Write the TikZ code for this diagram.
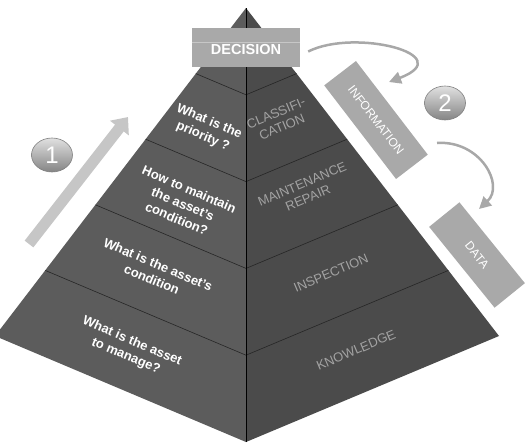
\documentclass[tikz,border=0pt]{standalone}
\usepackage{fontspec}
\setmainfont{Liberation Sans}
\usetikzlibrary{calc,arrows.meta,shapes.geometric}
\definecolor{leftface}{HTML}{5C5C5C}
\definecolor{rightface}{HTML}{4B4B4B}
\definecolor{boxgray}{HTML}{A9A9A9}
\definecolor{rtext}{HTML}{A3A3A3}
\definecolor{arrowgray}{HTML}{A8A8A8}
\definecolor{bigarrow}{HTML}{C6C6C6}
\begin{document}
\begin{tikzpicture}[x=1pt,y=-1pt,
  lefttext/.style={text=white,font=\fontsize{13}{16}\selectfont\bfseries,align=center,rotate=-23,inner sep=0pt},
  righttext/.style={text=rtext,font=\fontsize{13}{15}\selectfont,align=center,rotate=23,inner sep=0pt},
  slab/.style={fill=boxgray,text=white,inner sep=0pt,font=\fontsize{12}{14}\selectfont},
  layerline/.style={draw=black!85,line width=0.6pt},
  curvearrow/.style={draw=arrowgray,line width=2.5pt,-{Triangle[width=12pt,length=12pt]}},
  ball/.style={ellipse,minimum width=41pt,minimum height=34pt,inner sep=0pt,draw=black!50,line width=0.6pt,top color=black!12,bottom color=black!48,text=white,font=\fontsize{24}{24}\selectfont}
]
\useasboundingbox (0,0) rectangle (526,442);
% pyramid
\coordinate (A) at (246,8);
\coordinate (L) at (-5,336);
\coordinate (F) at (246,442);
\coordinate (R) at (499,336);
\fill[leftface] (A) -- (L) -- (F) -- cycle;
\fill[rightface] (A) -- (F) -- (R) -- cycle;
\foreach \k in {1,...,4} {
  \draw[layerline] ($(A)!\k/5!(L)$) -- ($(A)!\k/5!(F)$) -- ($(A)!\k/5!(R)$);
}
\draw[black,line width=0.7pt] (A) -- (F);
% left face texts
\node[lefttext] (q1) at (206,129) {What is the\\priority ?};
\node[lefttext] (q2) at (183,204) {How to maintain\\the asset's\\condition?};
\node[lefttext] (q3) at (155,272) {What is the asset's\\condition};
\node[lefttext] (q4) at (129,349) {What is the asset\\to manage?};
% right face texts
\node[righttext] (c1) at (279,120) {CLASSIFI-\\CATION};
\node[righttext] (c2) at (305,191) {MAINTENANCE\\REPAIR};
\node[righttext] (c3) at (331,273) {INSPECTION};
\node[righttext] (c4) at (356,350) {KNOWLEDGE};
% decision box
\node[fill=boxgray,minimum width=108pt,minimum height=39pt,inner sep=0pt,text height=13.5pt,text depth=0pt,text=white,font=\fontsize{14.5}{16}\selectfont\bfseries] (dec) at (246,47.5) {DECISION};
\draw[draw=black!22,line width=0.5pt] ($(dec.north west)!0.36!(dec.south west)$) -- ($(dec.north east)!0.36!(dec.south east)$);
% information / data slabs
\node[slab,rotate=-52.5,minimum width=118pt,minimum height=40pt] (info) at (376,120) {INFORMATION};
\node[slab,rotate=-51,minimum width=104pt,minimum height=39pt] (data) at (477,255) {DATA};
% numbered balls
\node[ball] (n1) at (52,155) {1};
\node[ball] (n2) at (445,103) {2};
% big arrow
\coordinate (b1) at (29,244);
\coordinate (b2) at (128,117);
\draw[bigarrow,line width=11pt,-{Triangle[width=23pt,length=14pt]}] (b1) -- (b2);
% curved arrows
\coordinate (a1e) at (389,82);
\draw[curvearrow] ($(dec.east)+(8,4)$) .. controls (355,28) and (460,55) .. (a1e);
\coordinate (a2s) at (437,143);
\coordinate (a2e) at (479,209);
\draw[curvearrow] (a2s) .. controls (480,140) and (505,185) .. (a2e);
\end{tikzpicture}
\end{document}
